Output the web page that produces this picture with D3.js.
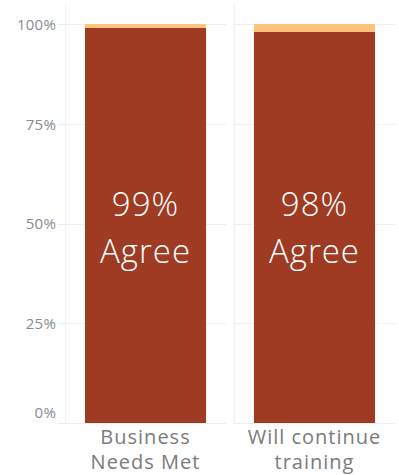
<!DOCTYPE html>
<html>
<head>
<meta charset="utf-8">
<script src="https://cdn.jsdelivr.net/npm/d3@7"></script>
<style>
  html, body { margin: 0; padding: 0; background: #fff; }
  svg { display: block; }
</style>
</head>
<body>
<svg id="chart" width="399" height="475"></svg>
<script>
// Share of respondents agreeing, per question
const categories = ["Business\nNeeds Met", "Will continue\ntraining"];
const agreeValues = [99, 98];
const otherValues = [1, 2];
const tickValues = [0, 25, 50, 75, 100];

const svg = d3.select("#chart");
const font = "'Open Sans', 'DejaVu Sans', sans-serif";

const plotTop = 24, plotBottom = 423;
const y = d3.scaleLinear().domain([0, 100]).range([plotBottom, plotTop]);

// One pane per category
const panes = d3.scaleBand().domain(categories).range([65, 395]).paddingInner(0.047);
const bandW = panes.bandwidth();
const inner = d3.scaleBand().domain(["bar"]).range([0, bandW]).paddingOuter(0.165).paddingInner(0);

// Pane border lines
svg.selectAll("line.pane").data(categories).enter().append("line")
  .attr("x1", d => Math.round(panes(d)) + 0.5).attr("x2", d => Math.round(panes(d)) + 0.5)
  .attr("y1", 3).attr("y2", plotBottom)
  .attr("stroke", "#f2f2f2").attr("stroke-width", 1);

// Horizontal gridlines inside each pane
categories.forEach((c, i) => {
  const x0 = i === 0 ? 58 : panes(c);
  svg.selectAll(null).data(tickValues).enter().append("line")
    .attr("x1", x0).attr("x2", panes(c) + bandW)
    .attr("y1", d => Math.round(y(d)) + 0.5).attr("y2", d => Math.round(y(d)) + 0.5)
    .attr("stroke", "#efefef").attr("stroke-width", 1);
});

// Y axis tick labels
const yAxis = d3.axisLeft(y).tickValues(tickValues).tickSize(0).tickPadding(0).tickFormat(d => d + "%");
const ga = svg.append("g").attr("transform", "translate(56,0)").call(yAxis);
ga.select(".domain").remove();
ga.selectAll("text")
  .attr("font-family", font).attr("font-size", 15).attr("fill", "#878c93")
  .attr("letter-spacing", "0.2px")
  .attr("dy", d => d === 0 ? "-0.4em" : "0.36em");

// Stacked bars
const groups = svg.selectAll("g.bar").data(categories).enter().append("g")
  .attr("transform", d => `translate(${panes(d)},0)`);

groups.append("rect")
  .attr("x", inner("bar")).attr("width", inner.bandwidth())
  .attr("y", (d, i) => y(agreeValues[i]))
  .attr("height", (d, i) => y(0) - y(agreeValues[i]))
  .attr("fill", "#9e3b22");

groups.append("rect")
  .attr("x", inner("bar")).attr("width", inner.bandwidth())
  .attr("y", (d, i) => y(agreeValues[i] + otherValues[i]))
  .attr("height", (d, i) => y(agreeValues[i]) - y(agreeValues[i] + otherValues[i]))
  .attr("fill", "#ffc37e");

// Value labels inside bars
groups.append("text")
  .attr("x", inner("bar") + inner.bandwidth() / 2)
  .attr("y", 216)
  .attr("text-anchor", "middle")
  .attr("font-family", font).attr("font-size", 33).attr("font-weight", 300)
  .attr("letter-spacing", "1px").attr("fill", "#ffffff")
  .text((d, i) => agreeValues[i] + "%");

groups.append("text")
  .attr("x", inner("bar") + inner.bandwidth() / 2)
  .attr("y", 263)
  .attr("text-anchor", "middle")
  .attr("font-family", font).attr("font-size", 33).attr("font-weight", 300)
  .attr("letter-spacing", "1px").attr("fill", "#ffffff")
  .text("Agree");

// Category labels below panes
groups.each(function(d) {
  const lines = d.split("\n");
  const t = d3.select(this).append("text")
    .attr("text-anchor", "middle")
    .attr("font-family", font).attr("font-size", 20).attr("letter-spacing", "1px")
    .attr("fill", "#7b7b7b");
  lines.forEach((ln, k) => {
    t.append("tspan").attr("x", inner("bar") + inner.bandwidth() / 2)
      .attr("y", 444 + k * 25).text(ln);
  });
});
</script>
</body>
</html>
